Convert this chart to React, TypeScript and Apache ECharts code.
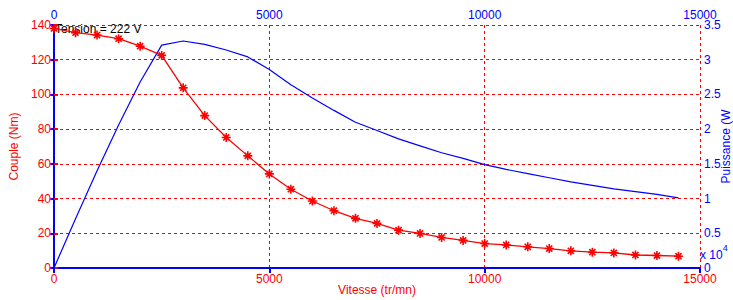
import React, { useEffect, useRef } from "react";
import * as echarts from "echarts";

const speeds = [0, 500, 1000, 1500, 2000, 2500, 3000, 3500, 4000, 4500, 5000, 5500, 6000, 6500, 7000, 7500, 8000, 8500, 9000, 9500, 10000, 10500, 11000, 11500, 12000, 12500, 13000, 13500, 14000, 14500];
const torque = [138, 135.6, 134.2, 132.1, 127.8, 122.5, 103.8, 87.8, 75.2, 64.6, 54.2, 45.4, 38.6, 33.0, 28.6, 25.7, 21.8, 19.9, 17.6, 15.9, 14.1, 13.3, 12.2, 11.2, 9.9, 9.1, 8.7, 7.5, 7.2, 6.8];
const power = [0, 0.71, 1.40, 2.06, 2.68, 3.21, 3.27, 3.22, 3.14, 3.04, 2.86, 2.64, 2.45, 2.27, 2.10, 1.98, 1.86, 1.76, 1.66, 1.58, 1.49, 1.42, 1.36, 1.30, 1.24, 1.19, 1.14, 1.10, 1.06, 1.01];
const xTicks = [0, 5000, 10000, 15000];
const leftTicks = [0, 20, 40, 60, 80, 100, 120, 140];
const rightTicks = [0, 0.5, 1, 1.5, 2, 2.5, 3, 3.5];

const RED = "#ff0000";
const BLUE = "#0000ff";
const FONT = "Liberation Sans";
const plain = (v: number) => String(v);

export default function App() {
  const ref = useRef<HTMLDivElement>(null);
  useEffect(() => {
    document.body.style.margin = "0";
    if (!ref.current) return;
    const chart = echarts.init(ref.current, null, { renderer: "svg" });
    const asterisk = "path://M5,0L5,10M0,5L10,5M1.6,1.6L8.4,8.4M1.6,8.4L8.4,1.6";
    chart.setOption({
      animation: false,
      backgroundColor: "#ffffff",
      textStyle: { fontFamily: FONT },
      grid: { left: 54, right: 33, top: 25, bottom: 32, containLabel: false, outerBoundsMode: "none" },
      xAxis: [
        {
          type: "value",
          position: "bottom",
          min: xTicks[0],
          max: xTicks[xTicks.length - 1],
          interval: 5000,
          name: "Vitesse (tr/mn)",
          nameLocation: "middle",
          nameGap: 16,
          nameMoveOverlap: false,
          nameTextStyle: { color: RED, fontSize: 12, fontFamily: FONT },
          axisLine: { lineStyle: { color: RED, width: 2 } },
          axisTick: { show: false },
          axisLabel: { color: RED, fontSize: 12, fontFamily: FONT, margin: 5, formatter: plain },
          splitLine: { show: true, lineStyle: { color: RED, type: [3, 3], width: 1 } },
        },
        {
          type: "value",
          position: "top",
          min: xTicks[0],
          max: xTicks[xTicks.length - 1],
          interval: 5000,
          axisLine: { lineStyle: { color: BLUE, width: 2 } },
          axisTick: { show: true, inside: true, length: 5, lineStyle: { color: BLUE, width: 2 } },
          axisLabel: { color: BLUE, fontSize: 12, fontFamily: FONT, margin: 4, formatter: plain },
          splitLine: { show: false },
        },
      ],
      yAxis: [
        {
          type: "value",
          position: "left",
          min: leftTicks[0],
          max: leftTicks[leftTicks.length - 1],
          interval: 20,
          name: "Couple (Nm)",
          nameLocation: "middle",
          nameGap: 34,
          nameMoveOverlap: false,
          nameTextStyle: { color: RED, fontSize: 12, fontFamily: FONT },
          axisLine: { show: true, lineStyle: { color: RED, width: 1.5 } },
          axisTick: { show: true, inside: true, length: 4, lineStyle: { color: RED, width: 2 } },
          axisLabel: { color: RED, fontSize: 12, fontFamily: FONT, margin: 3, formatter: plain },
          splitLine: { show: true, lineStyle: { color: RED, type: [3, 3], width: 1 } },
        },
        {
          type: "value",
          position: "right",
          min: rightTicks[0],
          max: rightTicks[rightTicks.length - 1],
          interval: 0.5,
          name: "Puissance (W",
          nameLocation: "middle",
          nameGap: 20,
          nameMoveOverlap: false,
          nameRotate: 90,
          nameTextStyle: { color: BLUE, fontSize: 12, fontFamily: FONT },
          axisLine: { show: true, lineStyle: { color: BLUE, width: 2 } },
          axisTick: { show: true, inside: true, length: 4, lineStyle: { color: BLUE, width: 2 } },
          axisLabel: { color: BLUE, fontSize: 12, fontFamily: FONT, margin: 4, formatter: plain },
          splitLine: { show: false },
        },
      ],
      graphic: [
        {
          type: "text",
          left: 55,
          top: 23,
          style: { text: "Tension = 222 V", fill: "#000000", fontSize: 12, fontFamily: FONT },
        },
        {
          type: "text",
          left: 700,
          top: 243,
          style: {
            text: "{a|x 10}{b|4}",
            rich: {
              a: { fill: BLUE, fontSize: 12, fontFamily: FONT, verticalAlign: "bottom", padding: [6, 0, 0, 0] },
              b: { fill: BLUE, fontSize: 9, fontFamily: FONT, verticalAlign: "top" },
            },
          },
        },
      ],
      series: [
        {
          type: "line",
          xAxisIndex: 0,
          yAxisIndex: 1,
          data: speeds.map((s, i) => [s, power[i]]),
          showSymbol: false,
          symbol: "none",
          lineStyle: { color: BLUE, width: 1.2 },
          z: 3,
        },
        {
          type: "line",
          xAxisIndex: 0,
          yAxisIndex: 0,
          data: speeds.map((s, i) => [s, torque[i]]),
          symbol: asterisk,
          symbolSize: 9,
          itemStyle: { color: RED, borderColor: RED, borderWidth: 1.6 },
          lineStyle: { color: RED, width: 1.3 },
          z: 4,
        },
      ],
    });
    return () => chart.dispose();
  }, []);
  return <div ref={ref} style={{ width: 733, height: 300 }} />;
}
